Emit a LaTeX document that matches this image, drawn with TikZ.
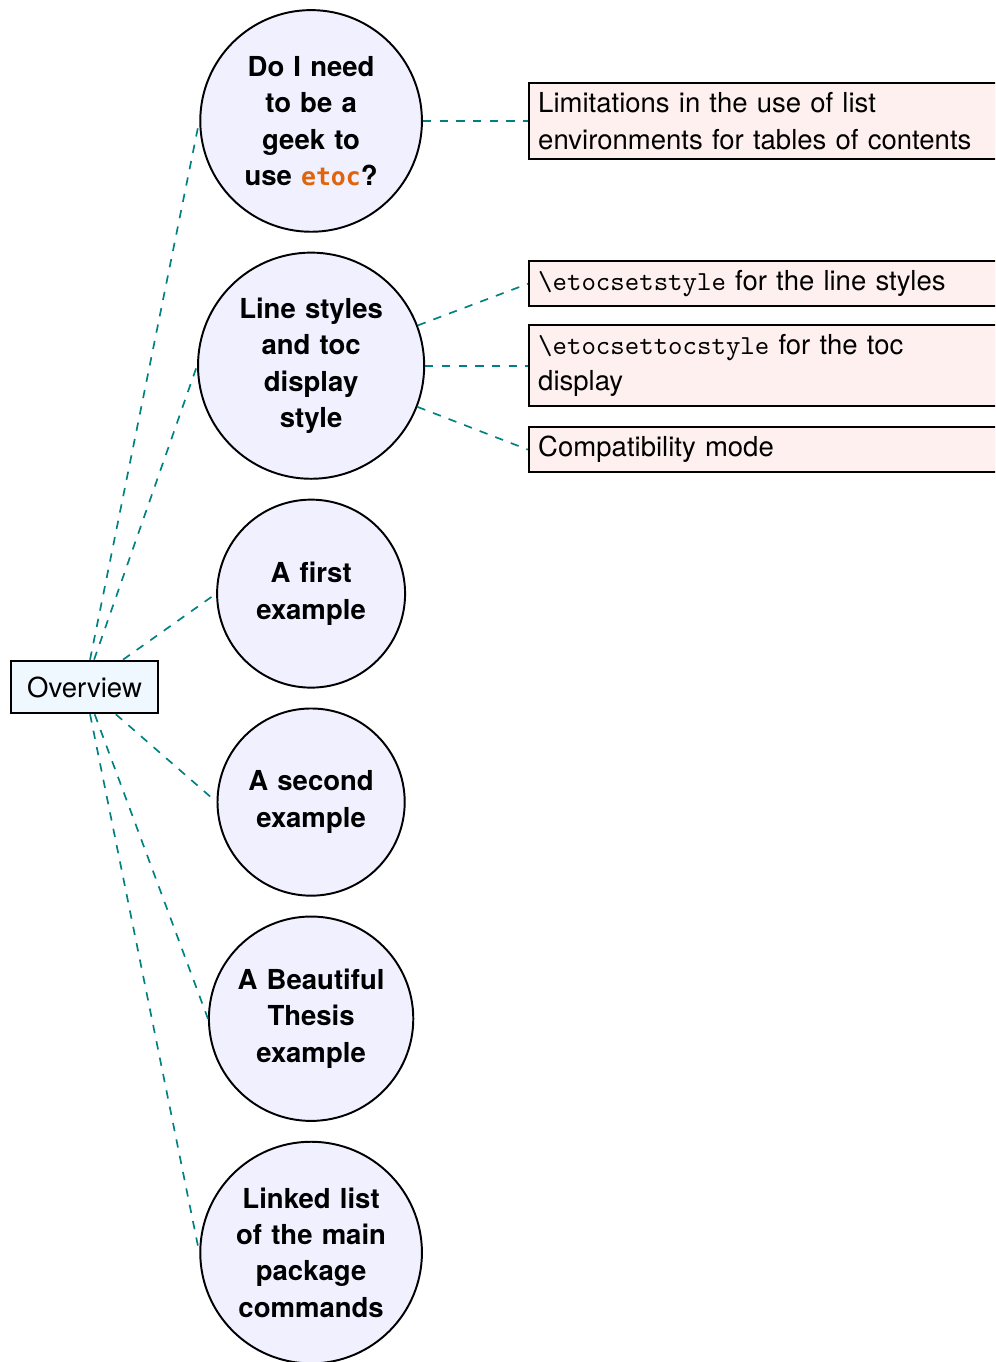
\documentclass[tikz,border=0pt]{standalone}
\usepackage{fontspec}
\setmainfont{TeX Gyre Heros}
\newfontfamily\etocfont{DejaVu Sans Mono}[Scale=0.9]
\usetikzlibrary{positioning}
\definecolor{topicfill}{RGB}{240,240,255}
\definecolor{rootfill}{RGB}{240,248,255}
\definecolor{leaffill}{RGB}{255,240,240}
\definecolor{etocorange}{RGB}{225,100,10}
\definecolor{linkteal}{RGB}{0,128,128}
\newcommand{\etocname}{{\etocfont\textcolor{etocorange}{etoc}}}
\newcommand{\cmdtt}[1]{\texttt{\textbackslash #1}}
\hyphenpenalty=10000
\exhyphenpenalty=10000

\begin{document}
\begin{tikzpicture}[x=1pt,y=1pt,
    every node/.style={font=\fontsize{9.9}{13.1}\selectfont},
    topic/.style={circle,draw,line width=0.7pt,fill=topicfill,text width=54.2pt,
      align=center,inner xsep=4.2pt,inner ysep=1.5pt,
      font=\fontsize{9.9}{13.1}\selectfont\bfseries},
    leaf/.style={rectangle,draw,line width=0.7pt,fill=leaffill,text width=162pt,
      align=left,anchor=west},
    root/.style={rectangle,draw,line width=0.7pt,fill=rootfill,inner sep=2mm},
    link/.style={dashed,linkteal,line width=0.6pt},
    node distance=6.8pt]
  \useasboundingbox (0,0) rectangle (357.9,-489.9);
  \clip (0,0) rectangle (357.9,-489.9);
  \node[root] (ov) at (30.4,-247.1) {Overview};
  \node[topic] (t1) at (111.9,-43.5) {Do I need to be a geek to use \etocname?};
  \node[topic,below=of t1] (t2) {Line styles and toc display style};
  \node[topic,below=of t2] (t3) {A first example};
  \node[topic,below=of t3] (t4) {A second example};
  \node[topic,below=of t4] (t5) {A Beautiful Thesis example};
  \node[topic,below=of t5] (t6) {Linked list of the main package commands};
  \node[leaf] (l1) at ([xshift=78pt]t1.center)
    {Limitations in the use of list environments for tables of contents};
  \node[leaf] (l3) at ([xshift=78pt]t2.center) {\cmdtt{etocsettocstyle} for the toc display};
  \node[leaf,above=of l3,yshift=-0.7pt] (l2) {\cmdtt{etocsetstyle} for the line styles};
  \node[leaf,below=of l3] (l4) {Compatibility mode};
  \begin{scope}[link]
    \draw (ov) -- (t1.west);
    \draw (ov) -- (t2.west);
    \draw (ov) -- (t3.west);
    \draw (ov) -- (t4.west);
    \draw (ov) -- (t5.west);
    \draw (ov) -- (t6.west);
    \draw (t1) -- (l1.west);
    \draw (t2) -- (l2.west);
    \draw (t2) -- (l3.west);
    \draw (t2) -- (l4.west);
  \end{scope}
\end{tikzpicture}
\end{document}
